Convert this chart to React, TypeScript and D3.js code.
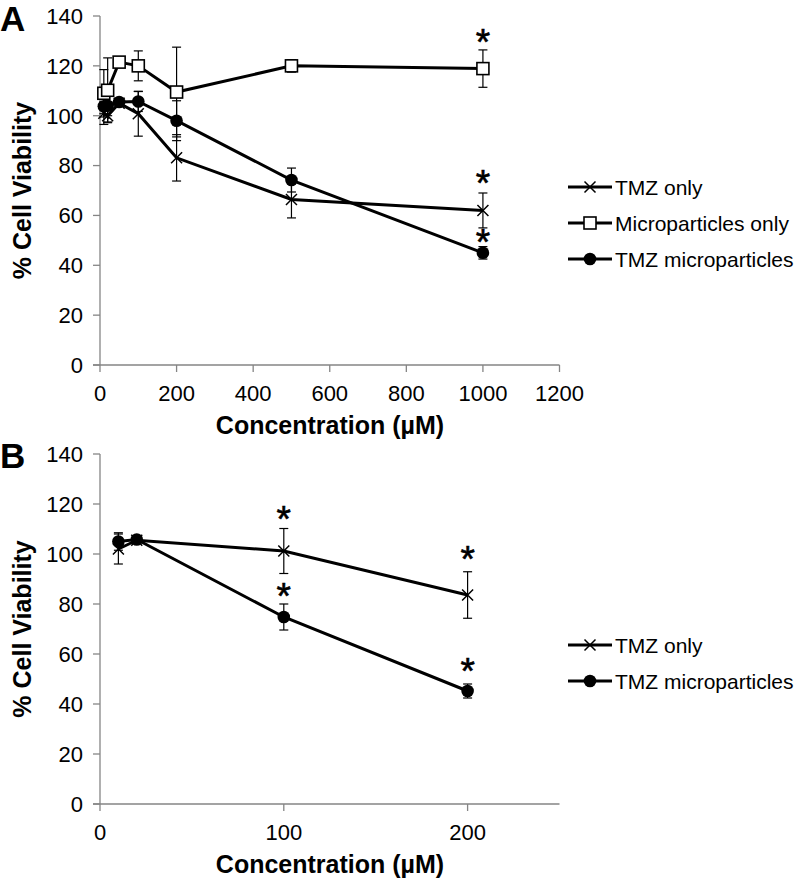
import React from "react";
import * as d3 from "d3";

// ---------- data ----------
const concA = [10, 20, 50, 100, 200, 500, 1000];
const tmzOnlyA = [101, 100, 105, 100.8, 83.1, 66.4, 62];
const tmzOnlyAErr = [4.5, 2.5, 1, 9, 9.3, 7.4, 7];
const microOnlyA = [109, 110.2, 121.5, 120, 109.5, 120, 118.9];
const microOnlyAErr = [9.5, 13, 1.5, 6, 18, 2.5, 7.5];
const tmzMicroA = [103.8, 104, 105.5, 105.7, 98, 74.2, 45];
const tmzMicroAErr = [3, 4, 1, 4, 8, 4.8, 2.5];
const starsA = [
  { x: 1000, v: 130.4 },
  { x: 1000, v: 73.8 },
  { x: 1000, v: 50.2 },
];
const xTicksA = [0, 200, 400, 600, 800, 1000, 1200];

const concB = [10, 20, 100, 200];
const tmzOnlyB = [102, 105.5, 101.2, 83.6];
const tmzOnlyBErr = [6, 1, 9, 9.3];
const tmzMicroB = [105, 105.8, 74.8, 45.2];
const tmzMicroBErr = [3.5, 1, 5.2, 2.8];
const starsB = [
  { x: 100, v: 114.8 },
  { x: 100, v: 84 },
  { x: 200, v: 98.8 },
  { x: 200, v: 54 },
];
const xTicksB = [0, 100, 200];

const yTicks = [0, 20, 40, 60, 80, 100, 120, 140];

const FONT = "'Liberation Sans', Arial, Helvetica, sans-serif";
const AXIS = "#858585";

type Series = { name: string; marker: "x" | "square" | "circle"; y: number[]; err: number[] };

function Marker({ kind, cx, cy }: { kind: string; cx: number; cy: number }) {
  if (kind === "square")
    return <rect x={cx - 6} y={cy - 6} width={12} height={12} fill="#fff" stroke="#000" strokeWidth={1.6} />;
  if (kind === "circle") return <circle cx={cx} cy={cy} r={6.3} fill="#000" />;
  return (
    <path
      d={`M${cx - 5.5},${cy - 5.5}L${cx + 5.5},${cy + 5.5}M${cx - 5.5},${cy + 5.5}L${cx + 5.5},${cy - 5.5}`}
      stroke="#000"
      strokeWidth={1.5}
      fill="none"
    />
  );
}

function Panel({
  top,
  bottom,
  letter,
  letterY,
  xMax,
  xTicks,
  conc,
  series,
  stars,
  legendY,
}: {
  top: number;
  bottom: number;
  letter: string;
  letterY: number;
  xMax: number;
  xTicks: number[];
  conc: number[];
  series: Series[];
  stars: { x: number; v: number }[];
  legendY: number;
}) {
  const x = d3.scaleLinear().domain([0, xMax]).range([100, 559.5]);
  const y = d3.scaleLinear().domain([0, 140]).range([bottom, top]);
  const line = d3
    .line<number>()
    .x((_, i) => x(conc[i]))
    .y((d) => y(d));
  return (
    <g>
      <text x={0} y={letterY} fontFamily={FONT} fontWeight="bold" fontSize={35}>
        {letter}
      </text>
      {/* y axis */}
      <line x1={100} x2={100} y1={y(140)} y2={y(0)} stroke={AXIS} strokeWidth={1.3} />
      {yTicks.map((t) => (
        <g key={t}>
          <line x1={93} x2={100} y1={y(t)} y2={y(t)} stroke={AXIS} strokeWidth={1.3} />
          <text x={83} y={y(t)} dy="0.36em" textAnchor="end" fontFamily={FONT} fontSize={22}>
            {t}
          </text>
        </g>
      ))}
      {/* x axis */}
      <line x1={93} x2={x(xMax)} y1={y(0)} y2={y(0)} stroke={AXIS} strokeWidth={1.3} />
      {xTicks.map((t) => (
        <g key={t}>
          <line x1={x(t)} x2={x(t)} y1={y(0)} y2={y(0) + 7} stroke={AXIS} strokeWidth={1.3} />
          <text x={x(t)} y={y(0) + 36} textAnchor="middle" fontFamily={FONT} fontSize={22}>
            {t}
          </text>
        </g>
      ))}
      <text
        x={330}
        y={y(0) + 69}
        textAnchor="middle"
        fontFamily={FONT}
        fontWeight="bold"
        fontSize={25}
      >
        Concentration (µM)
      </text>
      <text
        transform={`translate(31,${(y(0) + y(140)) / 2}) rotate(-90)`}
        textAnchor="middle"
        fontFamily={FONT}
        fontWeight="bold"
        fontSize={25}
      >
        % Cell Viability
      </text>
      {/* error bars */}
      {series.map((s) =>
        s.y.map((v, i) => {
          const cx = x(conc[i]);
          const y1 = y(v + s.err[i]);
          const y2 = y(v - s.err[i]);
          return (
            <g key={s.name + i} stroke="#000" strokeWidth={1.2}>
              <line x1={cx} x2={cx} y1={y1} y2={y2} />
              <line x1={cx - 4.5} x2={cx + 4.5} y1={y1} y2={y1} />
              <line x1={cx - 4.5} x2={cx + 4.5} y1={y2} y2={y2} />
            </g>
          );
        })
      )}
      {/* lines */}
      {series.map((s) => (
        <path key={s.name} d={line(s.y) || ""} fill="none" stroke="#000" strokeWidth={3} />
      ))}
      {/* markers */}
      {series.map((s) =>
        s.y.map((v, i) => <Marker key={s.name + "m" + i} kind={s.marker} cx={x(conc[i])} cy={y(v)} />)
      )}
      {/* significance */}
      {stars.map((s, i) => (
        <text
          key={i}
          x={x(s.x)}
          y={y(s.v) + 15}
          textAnchor="middle"
          fontFamily={FONT}
          fontSize={37}
          stroke="#000"
          strokeWidth={0.6}
        >
          *
        </text>
      ))}
      {/* legend */}
      {series.map((s, i) => {
        const ly = legendY + i * 36;
        return (
          <g key={"lg" + s.name}>
            <line x1={568} x2={612} y1={ly} y2={ly} stroke="#000" strokeWidth={3} />
            <Marker kind={s.marker} cx={590} cy={ly} />
            <text x={615} y={ly} dy="0.36em" fontFamily={FONT} fontSize={21}>
              {s.name}
            </text>
          </g>
        );
      })}
    </g>
  );
}

export default function App() {
  const seriesA: Series[] = [
    { name: "TMZ only", marker: "x", y: tmzOnlyA, err: tmzOnlyAErr },
    { name: "Microparticles only", marker: "square", y: microOnlyA, err: microOnlyAErr },
    { name: "TMZ microparticles", marker: "circle", y: tmzMicroA, err: tmzMicroAErr },
  ];
  const seriesB: Series[] = [
    { name: "TMZ only", marker: "x", y: tmzOnlyB, err: tmzOnlyBErr },
    { name: "TMZ microparticles", marker: "circle", y: tmzMicroB, err: tmzMicroBErr },
  ];
  return (
    <svg
      width={800}
      height={881}
      style={{ position: "absolute", left: 0, top: 0, background: "#fff" }}
    >
      <rect width={800} height={881} fill="#fff" />
      <Panel
        top={16}
        bottom={365}
        letter="A"
        letterY={31}
        xMax={1200}
        xTicks={xTicksA}
        conc={concA}
        series={seriesA}
        stars={starsA}
        legendY={187}
      />
      <Panel
        top={454}
        bottom={804}
        letter="B"
        letterY={468}
        xMax={250}
        xTicks={xTicksB}
        conc={concB}
        series={seriesB}
        stars={starsB}
        legendY={645}
      />
    </svg>
  );
}
